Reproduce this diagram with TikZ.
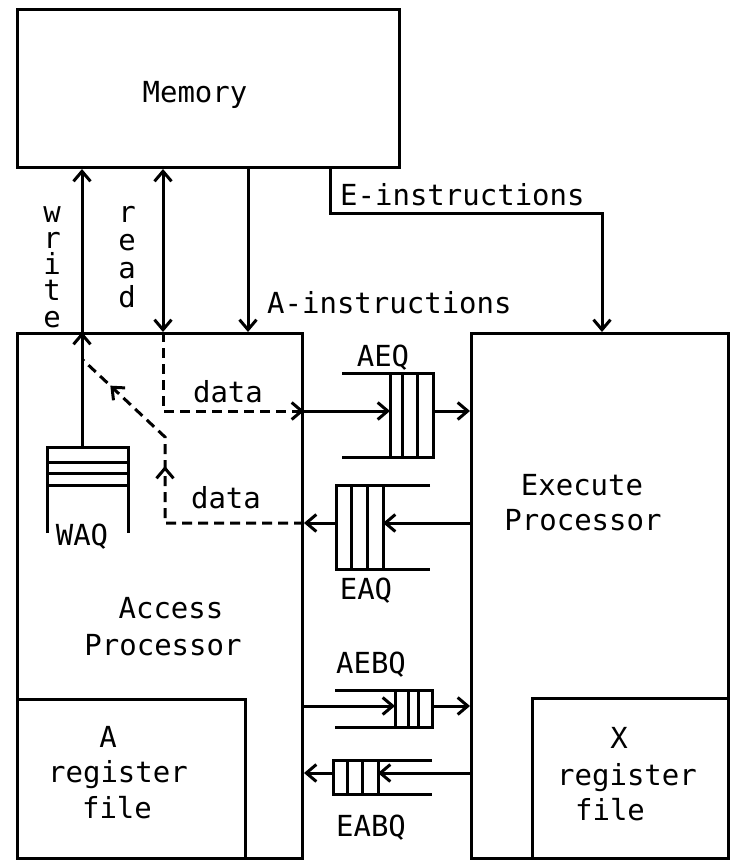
\documentclass[tikz,border=0pt]{standalone}
\usepackage{fontspec}
\setmonofont{DejaVu Sans Mono}
\usetikzlibrary{arrows.meta,decorations.markings}
\begin{document}
\begin{tikzpicture}[x=1pt,y=-1pt,
  lw/.style={line width=3pt},
  box/.style={draw, lw, rectangle, inner sep=0pt, anchor=north west},
  txt/.style={font=\fontsize{29}{35}\selectfont\ttfamily, inner sep=0pt, anchor=base},
  tip/.style={-{Straight Barb[length=10pt,width=17pt]}},
  conn/.style={lw, tip},
  dashline/.style={lw, dash pattern=on 10pt off 6pt},
  vtxt/.style={font=\fontsize{29}{26.25}\selectfont\ttfamily, inner sep=0pt, align=center, anchor=base}
]
\useasboundingbox (0,0) rectangle (738,862);

% boxes
\node[box, minimum width=382pt, minimum height=158pt] (mem) at (16,8) {};
\node[box, minimum width=285pt, minimum height=525pt] (acc) at (16,332) {};
\node[box, minimum width=257pt, minimum height=525pt] (exe) at (470,332) {};
\node[box, minimum width=228pt, minimum height=159pt] (areg) at (16,698) {};
\node[box, minimum width=196pt, minimum height=160pt] (xreg) at (531,697) {};

% texts
\node[txt] (tmem) at (195,102) {Memory};
\node[txt, anchor=base west] (tei) at (340,205) {E-instructions};
\node[txt, anchor=base west] (tai) at (267,313) {A-instructions};
\node[txt] (td1) at (228,402) {data};
\node[txt] (td2) at (226,508) {data};
\node[txt] (taeq) at (383,366) {AEQ};
\node[txt] (teaq) at (366,599) {EAQ};
\node[txt] (twaq) at (82,545) {WAQ};
\node[txt] (taebq) at (371,673) {AEBQ};
\node[txt] (teabq) at (371,836) {EABQ};
\node[txt] (tacc1) at (171,618) {Access};
\node[txt] (tacc2) at (163,655) {Processor};
\node[txt] (tar1) at (108,747) {A};
\node[txt] (tar2) at (118,782) {register};
\node[txt] (tar3) at (117,818) {file};
\node[txt] (tex1) at (582,495) {Execute};
\node[txt] (tex2) at (583,530) {Processor};
\node[txt] (txr1) at (619,748) {X};
\node[txt] (txr2) at (627,785) {register};
\node[txt] (txr3) at (610,820) {file};
\node[vtxt] (twrite) at (52,327) {w\\r\\i\\t\\e};
\node[vtxt, font=\fontsize{29}{28.3}\selectfont\ttfamily] (tread) at (127,307) {r\\e\\a\\d};

% memory connectors
\coordinate (wx) at (82,250);
\coordinate (rx) at (163,250);
\coordinate (ax) at (248,250);
\coordinate (ex) at (330,213);
\coordinate (ey) at (602,213);
\coordinate (waqtop) at (82,447);
\draw[conn] (waqtop) -- (acc.north -| waqtop);
\draw[conn] (acc.north -| wx) -- (mem.south -| wx);
\draw[lw, {Straight Barb[length=10pt,width=17pt]}-{Straight Barb[length=10pt,width=17pt]}] (acc.north -| rx) -- (mem.south -| rx);
\draw[conn] (mem.south -| ax) -- (acc.north -| ax);
\draw[conn] (mem.south -| ex) -- (ex) -- (ey) -- (exe.north -| ey);

% WAQ
\draw[lw] (47,533) -- (47,447) -- (128,447) -- (128,533);
\draw[lw] (47,462) -- (128,462) (47,473) -- (128,473) (47,485) -- (128,485);

% AEQ
\draw[lw] (342,373) -- (433,373) -- (433,457) -- (342,457);
\draw[lw] (390,373) -- (390,457) (402,373) -- (402,457) (417,373) -- (417,457);
\coordinate (aeqin) at (390,411);
\coordinate (aeqout) at (433,411);
\draw[conn] (acc.east |- aeqin) -- (aeqin);
\draw[conn] (aeqout) -- (exe.west |- aeqout);

% EAQ
\draw[lw] (430,485) -- (336,485) -- (336,569) -- (430,569);
\draw[lw] (351,485) -- (351,569) (367,485) -- (367,569) (383,485) -- (383,569);
\coordinate (eaqin) at (383,523);
\coordinate (eaqout) at (336,523);
\draw[conn] (exe.west |- eaqin) -- (eaqin);
\draw[conn] (eaqout) -- (acc.east |- eaqout);

% AEBQ
\draw[lw] (335,690) -- (432,690) -- (432,727) -- (335,727);
\draw[lw] (395,690) -- (395,727) (408,690) -- (408,727) (418,690) -- (418,727);
\coordinate (aebqin) at (395,706);
\coordinate (aebqout) at (432,706);
\draw[conn] (acc.east |- aebqin) -- (aebqin);
\draw[conn] (aebqout) -- (exe.west |- aebqout);

% EABQ
\draw[lw] (432,760) -- (333,760) -- (333,794) -- (432,794);
\draw[lw] (347,760) -- (347,794) (362,760) -- (362,794) (378,760) -- (378,794);
\coordinate (eabqin) at (378,773);
\coordinate (eabqout) at (333,773);
\draw[conn] (exe.west |- eabqin) -- (eabqin);
\draw[conn] (eabqout) -- (acc.east |- eabqout);

% dashed data paths
\coordinate (d1) at (163,411);
\draw[dashline, tip] (acc.north -| rx) -- (d1) -- (acc.east |- aeqin);
\coordinate (d2a) at (165,523);
\coordinate (d2b) at (165,437);
\coordinate (d2c) at (83,360);
\draw[dashline, postaction={decorate}, decoration={markings,
    mark=at position 196pt with {\arrow{Straight Barb[length=10pt,width=17pt]}},
    mark=at position 300pt with {\arrow{Straight Barb[length=10pt,width=17pt]}}}]
  (acc.east |- eaqout) -- (d2a) -- (d2b) -- (d2c);
\end{tikzpicture}
\end{document}
